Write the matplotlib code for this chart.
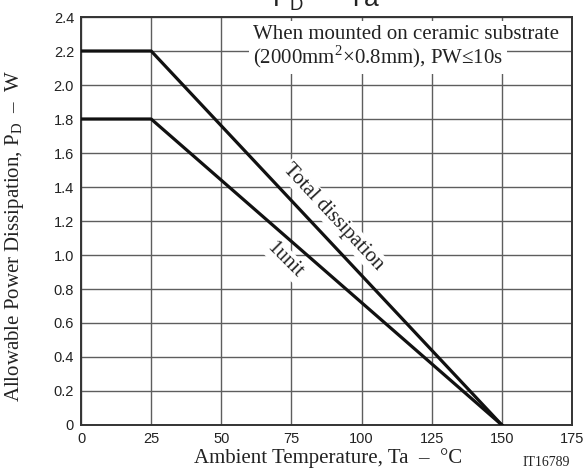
import matplotlib
matplotlib.use('Agg')
import matplotlib.pyplot as plt

# Datos de las curvas
temps = [0, 25, 150]
total_pd = [2.2, 2.2, 0.0]
unit_pd = [1.8, 1.8, 0.0]

x_ticks = [0, 25, 50, 75, 100, 125, 150, 175]
y_ticks = [0, 0.2, 0.4, 0.6, 0.8, 1.0, 1.2, 1.4, 1.6, 1.8, 2.0, 2.2, 2.4]
y_ticklabels = ['0', '0.2', '0.4', '0.6', '0.8', '1.0', '1.2', '1.4',
                '1.6', '1.8', '2.0', '2.2', '2.4']

plt.rcParams['mathtext.fontset'] = 'custom'
plt.rcParams['mathtext.rm'] = 'Liberation Serif'
plt.rcParams['mathtext.sf'] = 'Liberation Sans'

serif = 'Liberation Serif'
sans = 'Liberation Sans'
fs = 15

fig = plt.figure(figsize=(5.87, 4.76), dpi=100)
ax = fig.add_axes([81/587, 1 - 425/476, 491/587, 408/476])

ax.set_xlim(0, 175)
ax.set_ylim(0, 2.4)
ax.set_xticks(x_ticks)
ax.set_yticks(y_ticks)
ax.set_yticklabels(y_ticklabels)
ax.tick_params(length=0, pad=5, labelsize=10.5, colors='#222222')
for lbl in ax.get_xticklabels() + ax.get_yticklabels():
    lbl.set_family(sans)

ax.grid(True, color='#5e5e5e', linewidth=1.0)
ax.set_axisbelow(True)
for spine in ax.spines.values():
    spine.set_color('#333333')
    spine.set_linewidth(1.4)

# Curvas
ax.plot(temps, total_pd, color='#111111', lw=2.3, zorder=3)
ax.plot(temps, unit_pd, color='#111111', lw=2.3, zorder=3)

# Etiquetas de las curvas
ax.text(89.8, 1.224, 'Total dissipation', rotation=-47, fontsize=fs,
        family=serif, ha='center', va='center', color='#222222',
        bbox=dict(facecolor='white', edgecolor='none', pad=1), zorder=2)
ax.text(72.7, 0.971, '1unit', rotation=-45, fontsize=fs,
        family=serif, ha='center', va='center', color='#222222',
        bbox=dict(facecolor='white', edgecolor='none', pad=1), zorder=2)

# Condiciones de montaje
ax.text(61.3, 2.271, 'When mounted on ceramic substrate', fontsize=fs,
        family=serif, ha='left', va='baseline', color='#222222',
        bbox=dict(facecolor='white', edgecolor='none', pad=3), zorder=2)
ax.text(61.3, 2.129, '(2000mm$^2$×0.8mm), PW≤10s', fontsize=fs,
        family=serif, ha='left', va='baseline', color='#222222',
        bbox=dict(facecolor='white', edgecolor='none', pad=3), zorder=2)

# Titulo (cortado arriba)
fig.text(326/587, 1 - 7/476, r'$\mathsf{P_D}$  –  Ta', fontsize=19,
         family=sans, ha='center', va='baseline', color='#222222')

# Ejes
fig.text(15/587, 1 - 236/476, r'Allowable Power Dissipation, P$_\mathrm{D}$  –  W',
         fontsize=fs, family=serif, rotation=90, ha='center', va='center',
         color='#222222')
fig.text(328/587, 1 - 458/476, 'Ambient Temperature, Ta  –  °C',
         fontsize=fs, family=serif, ha='center', va='center', color='#222222')
fig.text(570/587, 1 - 462/476, 'IT16789', fontsize=10, family=serif,
         ha='right', va='center', color='#222222')

fig.savefig('out.png', dpi=100, facecolor='white')
